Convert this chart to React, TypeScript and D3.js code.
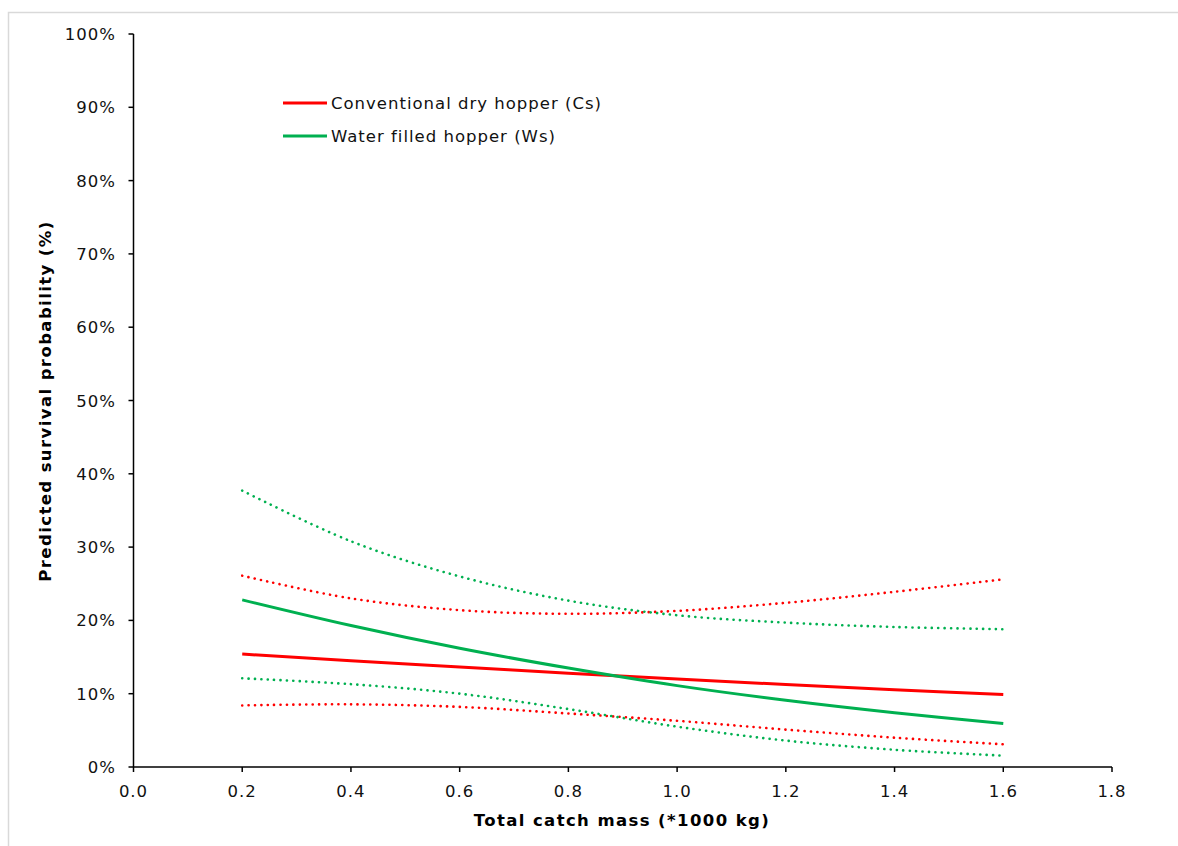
import React from "react";
import * as d3 from "d3";

const xValues = [0.2, 0.4, 0.6, 0.8, 1.0, 1.2, 1.4, 1.6];
const cs = [15.4, 14.5, 13.65, 12.8, 12.0, 11.25, 10.55, 9.9];
const csUpper = [26.1, 23.0, 21.4, 20.9, 21.3, 22.4, 23.9, 25.6];
const csLower = [8.4, 8.55, 8.2, 7.3, 6.3, 5.1, 4.0, 3.1];
const ws = [22.8, 19.3, 16.2, 13.5, 11.1, 9.1, 7.4, 5.95];
const wsUpper = [37.7, 30.8, 26.0, 22.7, 20.7, 19.7, 19.1, 18.8];
const wsLower = [12.1, 11.3, 10.0, 7.9, 5.5, 3.6, 2.35, 1.55];

const xTicks = [0, 0.2, 0.4, 0.6, 0.8, 1.0, 1.2, 1.4, 1.6, 1.8];
const yTicks = [0, 10, 20, 30, 40, 50, 60, 70, 80, 90, 100];
const legendLabels = ["Conventional dry hopper (Cs)", "Water filled hopper (Ws)"];

const RED = "#FF0000";
const GREEN = "#00B050";
const FONT = "'DejaVu Sans', Verdana, sans-serif";

export default function App() {
  const x = d3.scaleLinear().domain([0, 1.8]).range([133.5, 1112]);
  const y = d3.scaleLinear().domain([0, 100]).range([767, 34]);
  const line = d3
    .line<number>()
    .x((_, i) => x(xValues[i]))
    .y((d) => y(d))
    .curve(d3.curveCatmullRom.alpha(0.5));

  const series = [
    { data: cs, color: RED, dotted: false },
    { data: csUpper, color: RED, dotted: true },
    { data: csLower, color: RED, dotted: true },
    { data: ws, color: GREEN, dotted: false },
    { data: wsUpper, color: GREEN, dotted: true },
    { data: wsLower, color: GREEN, dotted: true },
  ];

  return (
    <svg
      width={1178}
      height={846}
      style={{ position: "absolute", left: 0, top: 0, background: "#fff" }}
      fontFamily={FONT}
    >
      <rect x={8.5} y={12.5} width={1200} height={900} fill="none" stroke="#d9d9d9" strokeWidth={1.5} />
      {/* axes */}
      <line x1={x(0)} x2={x(0)} y1={y(100)} y2={y(0)} stroke="#000" strokeWidth={1.5} />
      <line x1={x(0)} x2={x(1.8)} y1={y(0)} y2={y(0)} stroke="#000" strokeWidth={1.5} />
      {yTicks.map((t) => (
        <g key={"y" + t}>
          <line x1={x(0) - 5} x2={x(0)} y1={y(t)} y2={y(t)} stroke="#000" strokeWidth={1.5} />
          <text x={116} y={y(t) + 6} textAnchor="end" fontSize={16.5} fill="#111" letterSpacing={1}>
            {t + "%"}
          </text>
        </g>
      ))}
      {xTicks.map((t) => (
        <g key={"x" + t}>
          <line x1={x(t)} x2={x(t)} y1={y(0)} y2={y(0) + 5} stroke="#000" strokeWidth={1.5} />
          <text x={x(t)} y={797} textAnchor="middle" fontSize={16.5} fill="#111" letterSpacing={1}>
            {t.toFixed(1)}
          </text>
        </g>
      ))}
      {series.map((s, i) => (
        <path
          key={i}
          d={line(s.data) || ""}
          fill="none"
          stroke={s.color}
          strokeWidth={s.dotted ? 2.6 : 3}
          strokeDasharray={s.dotted ? "0.1 6.3" : undefined}
          strokeLinecap={s.dotted ? "round" : "butt"}
        />
      ))}
      {/* legend */}
      {legendLabels.map((l, i) => (
        <g key={l}>
          <line x1={283} x2={327} y1={103 + i * 33} y2={103 + i * 33} stroke={i === 0 ? RED : GREEN} strokeWidth={3} />
          <text x={331} y={103 + i * 33 + 6} fontSize={16.5} fill="#111" letterSpacing={1}>
            {l}
          </text>
        </g>
      ))}
      <text x={622} y={826} textAnchor="middle" fontSize={16.5} fontWeight="bold" fill="#000" letterSpacing={1.4}>
        Total catch mass (*1000 kg)
      </text>
      <text
        transform={`translate(51, 401) rotate(-90)`}
        textAnchor="middle"
        fontSize={16.5}
        fontWeight="bold"
        fill="#000"
        letterSpacing={1.4}
      >
        Predicted survival probability (%)
      </text>
    </svg>
  );
}
